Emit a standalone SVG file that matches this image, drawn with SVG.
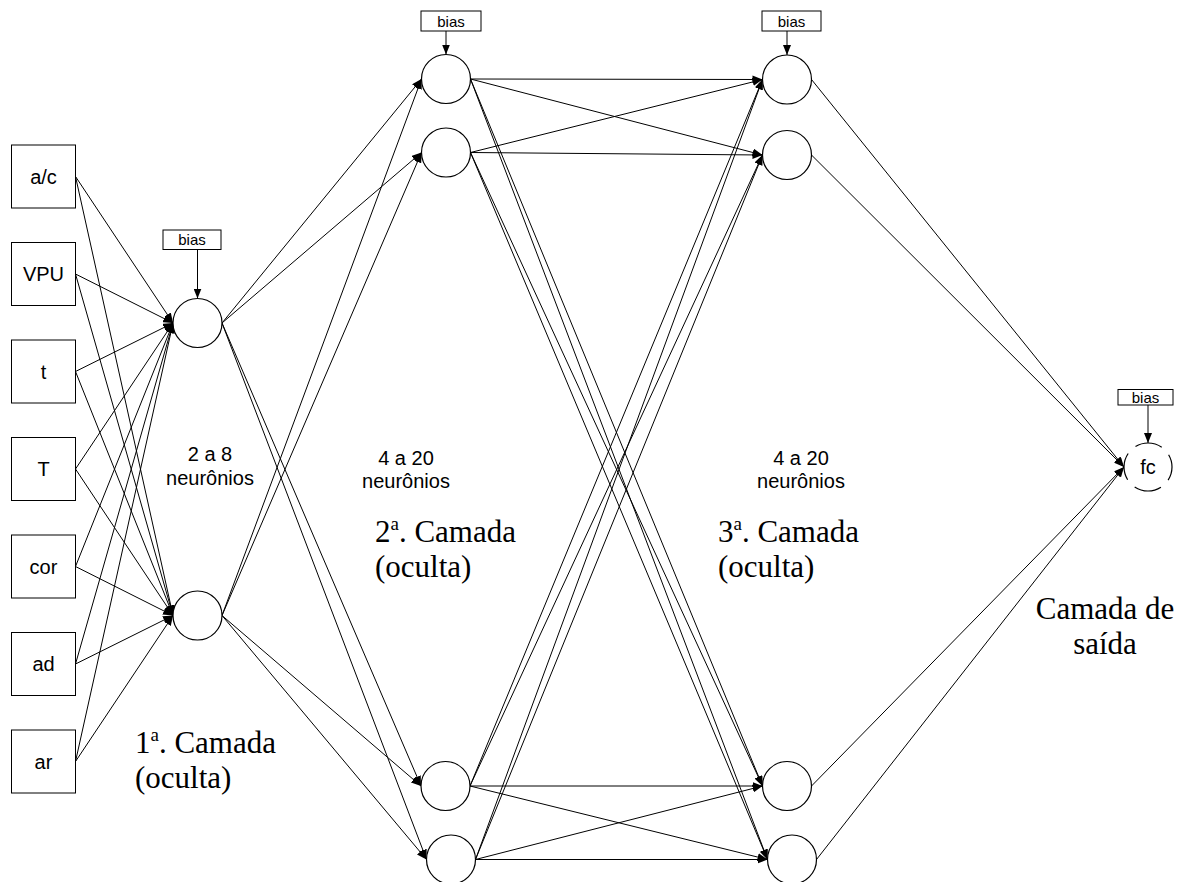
<svg xmlns="http://www.w3.org/2000/svg" width="1187" height="882" viewBox="0 0 1187 882">
<defs>
<marker id="arr" viewBox="0 0 10 8" refX="10" refY="4" markerWidth="10" markerHeight="8" orient="auto" markerUnits="userSpaceOnUse"><path d="M0,0 L10,4 L0,8 z" fill="#000"/></marker>
</defs>
<style>
.box{fill:#fff;stroke:#000;stroke-width:1}
.neuron{fill:#fff;stroke:#000;stroke-width:1.2}
.lbl{font-family:"Liberation Sans",Arial,sans-serif;font-size:20px;text-anchor:middle;fill:#000}
.bt{font-family:"Liberation Sans",Arial,sans-serif;font-size:15px;text-anchor:middle;fill:#000}
.big{font-family:"Liberation Serif","Times New Roman",serif;font-size:31px;fill:#000}
.conn line{stroke:#000;stroke-width:1;marker-end:url(#arr)}
</style>
<rect width="1187" height="882" fill="#fff"/>
<g id="connectors" class="conn">
<!-- inputs to layer 1 -->
<line x1="75.5" y1="176.5" x2="173" y2="323"/>
<line x1="75.5" y1="176.5" x2="173" y2="615.5"/>
<line x1="75.5" y1="274" x2="173" y2="323"/>
<line x1="75.5" y1="274" x2="173" y2="615.5"/>
<line x1="75.5" y1="371.5" x2="173" y2="323"/>
<line x1="75.5" y1="371.5" x2="173" y2="615.5"/>
<line x1="75.5" y1="469" x2="173" y2="323"/>
<line x1="75.5" y1="469" x2="173" y2="615.5"/>
<line x1="75.5" y1="566.5" x2="173" y2="323"/>
<line x1="75.5" y1="566.5" x2="173" y2="615.5"/>
<line x1="75.5" y1="664" x2="173" y2="323"/>
<line x1="75.5" y1="664" x2="173" y2="615.5"/>
<line x1="75.5" y1="761.5" x2="173" y2="323"/>
<line x1="75.5" y1="761.5" x2="173" y2="615.5"/>
<!-- layer 1 to layer 2 -->
<line x1="222" y1="323" x2="421.5" y2="79"/>
<line x1="222" y1="323" x2="421.5" y2="152.5"/>
<line x1="222" y1="323" x2="421" y2="786"/>
<line x1="222" y1="323" x2="426.5" y2="859.5"/>
<line x1="222" y1="615.5" x2="421.5" y2="79"/>
<line x1="222" y1="615.5" x2="421.5" y2="152.5"/>
<line x1="222" y1="615.5" x2="421" y2="786"/>
<line x1="222" y1="615.5" x2="426.5" y2="859.5"/>
<!-- layer 2 to layer 3 -->
<line x1="470.5" y1="79" x2="762.5" y2="79.5"/>
<line x1="470.5" y1="79" x2="762.5" y2="155"/>
<line x1="470.5" y1="79" x2="762.5" y2="786"/>
<line x1="470.5" y1="79" x2="767.5" y2="859.5"/>
<line x1="470.5" y1="152.5" x2="762.5" y2="79.5"/>
<line x1="470.5" y1="152.5" x2="762.5" y2="155"/>
<line x1="470.5" y1="152.5" x2="762.5" y2="786"/>
<line x1="470.5" y1="152.5" x2="767.5" y2="859.5"/>
<line x1="470" y1="786" x2="762.5" y2="79.5"/>
<line x1="470" y1="786" x2="762.5" y2="155"/>
<line x1="470" y1="786" x2="762.5" y2="786"/>
<line x1="470" y1="786" x2="767.5" y2="859.5"/>
<line x1="475.5" y1="859.5" x2="762.5" y2="79.5"/>
<line x1="475.5" y1="859.5" x2="762.5" y2="155"/>
<line x1="475.5" y1="859.5" x2="762.5" y2="786"/>
<line x1="475.5" y1="859.5" x2="767.5" y2="859.5"/>
<!-- layer 3 to output -->
<line x1="811.5" y1="79.5" x2="1124" y2="467"/>
<line x1="811.5" y1="155" x2="1124" y2="467"/>
<line x1="811.5" y1="786" x2="1124" y2="467"/>
<line x1="816.5" y1="859.5" x2="1124" y2="467"/>
<!-- bias arrows -->
<line x1="197.5" y1="249.5" x2="197.5" y2="298.5"/>
<line x1="446" y1="31" x2="446" y2="54.5"/>
<line x1="787" y1="31" x2="787" y2="55"/>
<line x1="1148" y1="405" x2="1148" y2="443"/>
</g>
<g id="in-ac"><rect class="box" x="11.5" y="145" width="64" height="63"/><text class="lbl" x="43.5" y="183.5">a/c</text></g>
<g id="in-vpu"><rect class="box" x="11.5" y="242.5" width="64" height="63"/><text class="lbl" x="43.5" y="281">VPU</text></g>
<g id="in-t"><rect class="box" x="11.5" y="340" width="64" height="63"/><text class="lbl" x="43.5" y="378.5">t</text></g>
<g id="in-T"><rect class="box" x="11.5" y="437.5" width="64" height="63"/><text class="lbl" x="43.5" y="476">T</text></g>
<g id="in-cor"><rect class="box" x="11.5" y="535" width="64" height="63"/><text class="lbl" x="43.5" y="573.5">cor</text></g>
<g id="in-ad"><rect class="box" x="11.5" y="632.5" width="64" height="63"/><text class="lbl" x="43.5" y="671">ad</text></g>
<g id="in-ar"><rect class="box" x="11.5" y="730" width="64" height="63"/><text class="lbl" x="43.5" y="768.5">ar</text></g>
<g id="bias1"><rect class="box" x="163" y="230" width="58" height="19.5"/><text class="bt" x="192" y="245">bias</text></g>
<g id="bias2"><rect class="box" x="421" y="11" width="60" height="20"/><text class="bt" x="451" y="26.5">bias</text></g>
<g id="bias3"><rect class="box" x="762" y="11" width="59" height="20"/><text class="bt" x="791.5" y="26.5">bias</text></g>
<g id="bias4"><rect class="box" x="1118" y="389.5" width="55" height="15.5"/><text class="bt" x="1145.5" y="402.5">bias</text></g>
<g id="h1-1"><circle class="neuron" cx="197.5" cy="323" r="24.5"/></g>
<g id="h1-2"><circle class="neuron" cx="197.5" cy="615.5" r="24.5"/></g>
<g id="h2-1"><circle class="neuron" cx="446" cy="79" r="24.5"/></g>
<g id="h2-2"><circle class="neuron" cx="446" cy="152.5" r="24.5"/></g>
<g id="h2-3"><circle class="neuron" cx="445.5" cy="786" r="24.5"/></g>
<g id="h2-4"><circle class="neuron" cx="451" cy="859.5" r="24.5"/></g>
<g id="h3-1"><circle class="neuron" cx="787" cy="79.5" r="24.5"/></g>
<g id="h3-2"><circle class="neuron" cx="787" cy="155" r="24.5"/></g>
<g id="h3-3"><circle class="neuron" cx="787" cy="786" r="24.5"/></g>
<g id="h3-4"><circle class="neuron" cx="792" cy="859.5" r="24.5"/></g>
<g id="out-fc"><circle cx="1148" cy="467" r="24" fill="#fff" stroke="#000" stroke-width="1.2" stroke-dasharray="27.7 10" stroke-dashoffset="13.85"/><text class="lbl" x="1148" y="474">fc</text></g>
<g id="labels">
<text class="lbl" x="210" y="461">2 a 8</text>
<text class="lbl" x="210" y="485">neurônios</text>
<text class="lbl" x="406" y="465">4 a 20</text>
<text class="lbl" x="406" y="488">neurônios</text>
<text class="lbl" x="801" y="465">4 a 20</text>
<text class="lbl" x="801" y="488">neurônios</text>
<text class="big" x="135" y="753">1<tspan font-size="19" dy="-12">a</tspan><tspan dy="12">. Camada</tspan></text>
<text class="big" x="135" y="788">(oculta)</text>
<text class="big" x="375" y="542">2<tspan font-size="19" dy="-12">a</tspan><tspan dy="12">. Camada</tspan></text>
<text class="big" x="375" y="577">(oculta)</text>
<text class="big" x="718" y="542">3<tspan font-size="19" dy="-12">a</tspan><tspan dy="12">. Camada</tspan></text>
<text class="big" x="718" y="577">(oculta)</text>
<text class="big" x="1105" y="619" text-anchor="middle">Camada de</text>
<text class="big" x="1105" y="654" text-anchor="middle">saída</text>
</g>
</svg>
